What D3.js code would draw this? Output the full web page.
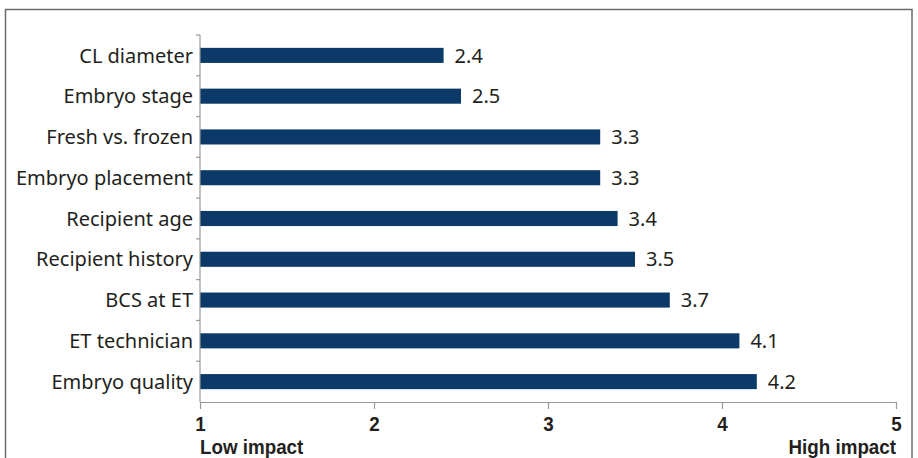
<!DOCTYPE html>
<html>
<head>
<meta charset="utf-8">
<script src="https://cdn.jsdelivr.net/npm/d3@7"></script>
<style>
  html, body { margin: 0; padding: 0; background: #fff; }
  svg { display: block; }
  .cat { font-family: "Noto Sans", sans-serif; font-size: 20px; fill: #231f20; }
  .val { font-family: "Noto Sans", sans-serif; font-size: 20px; fill: #231f20; }
  .tick-lbl { font-family: "Liberation Sans", Arial, sans-serif; font-weight: bold; font-size: 20px; fill: #231f20; }
  .end-lbl { font-family: "Liberation Sans", Arial, sans-serif; font-weight: bold; font-size: 20px; fill: #231f20; }
</style>
</head>
<body>
<svg width="918" height="458"></svg>
<script>
// factors, top to bottom
var factors = ['CL diameter', 'Embryo stage', 'Fresh vs. frozen', 'Embryo placement',
  'Recipient age', 'Recipient history', 'BCS at ET', 'ET technician', 'Embryo quality'];
var scores = [2.4, 2.5, 3.3, 3.3, 3.4, 3.5, 3.7, 4.1, 4.2];
var xTicks = [1, 2, 3, 4, 5];
var endLabels = ['Low impact', 'High impact'];

(function() {
  var svg = d3.select('svg');
  var mLeft = 200, mRight = 896, mTop = 35, mBottom = 402;
  var squeeze = 0.94; // the bold labels are a condensed face

  // outer frame (runs off the bottom of the picture)
  svg.append('rect')
    .attr('x', 5.5).attr('y', 9.5)
    .attr('width', 906.5).attr('height', 470)
    .attr('fill', 'none').attr('stroke', '#6b6b6b').attr('stroke-width', 1.5);

  var x = d3.scaleLinear().domain([1, 5]).range([mLeft, mRight]);
  var y = d3.scaleBand().domain(factors).range([mTop, mBottom])
    .paddingInner(0.63).paddingOuter(0.315);

  var bars = svg.append('g');
  bars.selectAll('rect').data(factors).enter().append('rect')
    .attr('x', x(1))
    .attr('y', function(d) { return y(d); })
    .attr('width', function(d, i) { return x(scores[i]) - x(1); })
    .attr('height', y.bandwidth())
    .attr('fill', '#0b3a68');

  bars.selectAll('text').data(factors).enter().append('text')
    .attr('class', 'val')
    .attr('x', function(d, i) { return x(scores[i]) + 11; })
    .attr('y', function(d) { return y(d) + y.bandwidth() / 2; })
    .attr('dy', '0.36em')
    .text(function(d, i) { return d3.format('.1f')(scores[i]); });

  // y axis: line with ticks at category boundaries
  var ya = svg.append('g');
  ya.append('line').attr('x1', mLeft).attr('x2', mLeft).attr('y1', mTop).attr('y2', mBottom)
    .attr('stroke', '#999').attr('stroke-width', 1.2);
  var bounds = factors.map(function(d) { return y(d) - y.step() * y.paddingInner() / 2; });
  ya.selectAll('line.tk').data(bounds).enter().append('line').attr('class', 'tk')
    .attr('x1', mLeft - 4).attr('x2', mLeft)
    .attr('y1', function(d) { return d; }).attr('y2', function(d) { return d; })
    .attr('stroke', '#999').attr('stroke-width', 1.2);
  ya.selectAll('text').data(factors).enter().append('text')
    .attr('class', 'cat')
    .attr('x', mLeft - 7)
    .attr('y', function(d) { return y(d) + y.bandwidth() / 2; })
    .attr('dy', '0.36em')
    .attr('text-anchor', 'end')
    .text(function(d) { return d; });

  // x axis
  var xa = svg.append('g').attr('transform', 'translate(0,' + mBottom + ')')
    .call(d3.axisBottom(x).tickValues(xTicks).tickSize(7).tickSizeOuter(0).tickPadding(8).tickFormat(d3.format('d')));
  xa.attr('font-family', null).attr('font-size', null);
  xa.select('.domain').attr('stroke', '#999').attr('stroke-width', 1.2);
  xa.selectAll('.tick line').attr('stroke', '#999').attr('stroke-width', 1.2);
  xa.selectAll('.tick text').attr('class', 'tick-lbl').attr('fill', null)
    .attr('transform', 'scale(' + squeeze + ',1)');

  var ends = [[mLeft, 'start'], [mRight, 'end']];
  svg.selectAll('text.end-lbl').data(endLabels).enter().append('text')
    .attr('class', 'end-lbl')
    .attr('transform', function(d, i) { return 'translate(' + ends[i][0] + ',454) scale(' + squeeze + ',1)'; })
    .attr('text-anchor', function(d, i) { return ends[i][1]; })
    .text(function(d) { return d; });
})();
</script>
</body>
</html>
